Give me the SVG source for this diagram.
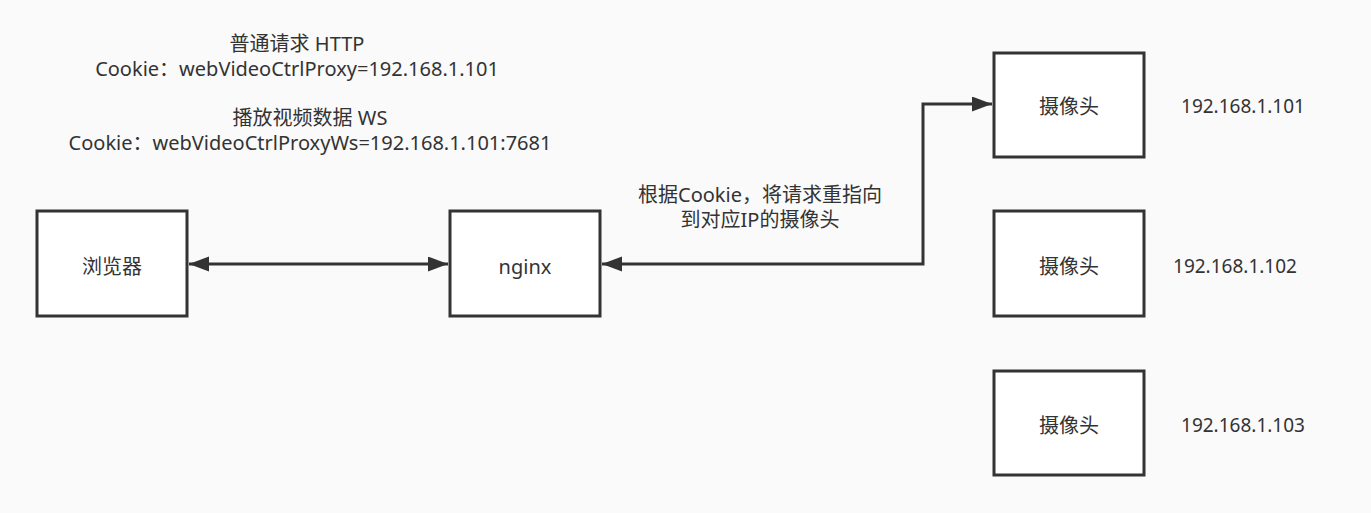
<svg xmlns="http://www.w3.org/2000/svg" width="1371" height="513" viewBox="0 0 1371 513">
  <style>
    .box { fill: #ffffff; stroke: #333333; stroke-width: 3; }
    .t { font-family: "Noto Sans", "Noto Sans CJK SC", sans-serif; font-size: 20px; fill: #333333; text-anchor: middle; }
    .ip { font-size: 19px; }
    .conn { fill: none; stroke: #333333; stroke-width: 3; marker-start: url(#arrow); marker-end: url(#arrow); }
  </style>
  <defs>
    <marker id="arrow" markerUnits="userSpaceOnUse" markerWidth="21" markerHeight="16" refX="20" refY="7.5" orient="auto-start-reverse">
      <path d="M0,0 L20,7.5 L0,15 Z" fill="#333333"/>
    </marker>
  </defs>
  <rect width="1371" height="513" fill="#fafafa"/>

  <g id="notes">
    <text class="t" x="297" y="51">普通请求 HTTP</text>
    <text class="t" x="297" y="76">Cookie：webVideoCtrlProxy=192.168.1.101</text>
    <text class="t" x="310" y="125">播放视频数据 WS</text>
    <text class="t" x="310" y="150">Cookie：webVideoCtrlProxyWs=192.168.1.101:7681</text>
  </g>

  <g id="connectors">
    <path class="conn" d="M189,264 H448"/>
    <path class="conn" d="M602,264 H923 V104 H992"/>
    <text class="t" x="760" y="202">根据Cookie，将请求重指向</text>
    <text class="t" x="760" y="227">到对应IP的摄像头</text>
  </g>

  <g id="browser">
    <rect class="box" x="37" y="211" width="150" height="105"/>
    <text class="t" x="112" y="274">浏览器</text>
  </g>
  <g id="nginx">
    <rect class="box" x="450" y="211" width="150" height="105"/>
    <text class="t" x="525" y="274">nginx</text>
  </g>
  <g id="camera1">
    <rect class="box" x="994" y="53" width="150" height="104"/>
    <text class="t" x="1069" y="114">摄像头</text>
  </g>
  <g id="camera2">
    <rect class="box" x="994" y="211" width="150" height="105"/>
    <text class="t" x="1069" y="274">摄像头</text>
  </g>
  <g id="camera3">
    <rect class="box" x="994" y="371" width="150" height="104"/>
    <text class="t" x="1069" y="433">摄像头</text>
  </g>
  <g id="ip-labels">
    <text class="t ip" x="1243" y="113">192.168.1.101</text>
    <text class="t ip" x="1235" y="273">192.168.1.102</text>
    <text class="t ip" x="1243" y="432">192.168.1.103</text>
  </g>
</svg>
